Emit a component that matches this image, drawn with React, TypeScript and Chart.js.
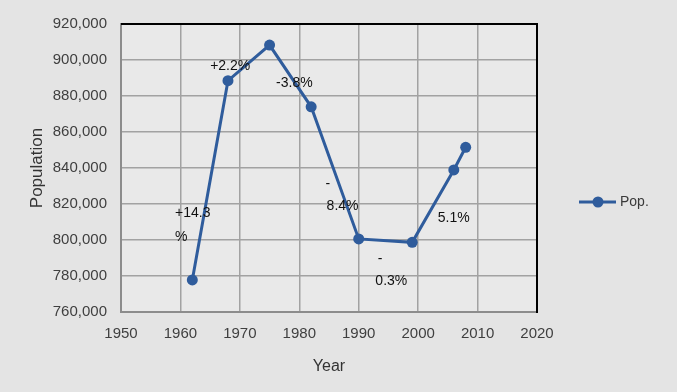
import React, { useEffect, useRef } from "react";
import { Chart, registerables } from "chart.js";

Chart.register(...registerables);

const years = [1962, 1968, 1975, 1982, 1990, 1999, 2006, 2008];
const population = [777800, 888500, 908300, 874000, 800600, 798700, 838900, 851500];
const seriesName = "Pop.";

const labelTexts = ["+14.3", "%", "+2.2%", "-3.8%", "-", "8.4%", "-", "0.3%", "5.1%"];
const labelYears = [1959.1, 1959.1, 1965.0, 1976.1, 1984.4, 1984.6, 1993.2, 1992.8, 2003.3];
const labelValues = [815000, 801700, 896700, 887200, 831100, 818900, 789400, 777200, 812200];

const LINE_COLOR = "#2f5c9c";
const FONT = "'Liberation Sans', Arial, sans-serif";

const decorPlugin = {
  id: "decor",
  beforeDraw(chart: any) {
    const { ctx, width, height, chartArea } = chart;
    ctx.save();
    ctx.fillStyle = "#e4e4e4";
    ctx.fillRect(0, 0, width, height);
    ctx.fillStyle = "#e9e9e9";
    ctx.fillRect(chartArea.left, chartArea.top, chartArea.right - chartArea.left, chartArea.bottom - chartArea.top);
    ctx.restore();
  },
  afterDatasetsDraw(chart: any) {
    const { ctx, chartArea, scales } = chart;
    const xs = scales.x;
    const ys = scales.y;
    ctx.save();
    // top & right black border
    ctx.strokeStyle = "#000";
    ctx.lineWidth = 2;
    ctx.beginPath();
    ctx.moveTo(chartArea.left, chartArea.top);
    ctx.lineTo(chartArea.right, chartArea.top);
    ctx.lineTo(chartArea.right, chartArea.bottom + 1);
    ctx.stroke();
    // data labels
    ctx.fillStyle = "#111";
    ctx.font = `14px ${FONT}`;
    ctx.textAlign = "left";
    ctx.textBaseline = "middle";
    labelTexts.forEach((t, i) => {
      ctx.fillText(t, xs.getPixelForValue(labelYears[i]), ys.getPixelForValue(labelValues[i]));
    });
    // legend
    const lx = chartArea.right + 42;
    const ly = 202;
    ctx.strokeStyle = LINE_COLOR;
    ctx.lineWidth = 3;
    ctx.beginPath();
    ctx.moveTo(lx, ly);
    ctx.lineTo(lx + 37, ly);
    ctx.stroke();
    ctx.fillStyle = LINE_COLOR;
    ctx.beginPath();
    ctx.arc(lx + 19, ly, 5.5, 0, Math.PI * 2);
    ctx.fill();
    ctx.fillStyle = "#3a3a3a";
    ctx.font = `14px ${FONT}`;
    ctx.fillText(seriesName, lx + 41, ly);
    ctx.restore();
  },
};

export default function App() {
  const ref = useRef<HTMLCanvasElement>(null);
  useEffect(() => {
    document.body.style.margin = "0";
    const chart = new Chart(ref.current!, {
      type: "line",
      data: {
        datasets: [
          {
            label: seriesName,
            data: years.map((y, i) => ({ x: y, y: population[i] })),
            borderColor: LINE_COLOR,
            backgroundColor: LINE_COLOR,
            borderWidth: 3,
            pointRadius: 5.5,
            pointBackgroundColor: LINE_COLOR,
            pointBorderWidth: 0,
            tension: 0,
          },
        ],
      },
      options: {
        animation: false,
        responsive: false,
        maintainAspectRatio: false,
        layout: { padding: { left: 0, right: 140, top: 24, bottom: 0 } },
        plugins: { legend: { display: false }, tooltip: { enabled: false } },
        scales: {
          x: {
            type: "linear",
            min: 1950,
            max: 2020,
            afterFit: (s: any) => { s.height = 80; },
            ticks: {
              stepSize: 10,
              padding: 13,
              color: "#3f3f3f",
              font: { size: 15, family: FONT },
              callback: (v: any) => String(v),
            },
            grid: { color: "#a2a2a2", lineWidth: 1.5, drawTicks: false },
            border: { color: "#8c8c8c", width: 2 },
            title: {
              display: true,
              text: "Year",
              color: "#333",
              font: { size: 16, family: FONT },
              padding: { top: 0, bottom: 16 },
            },
          },
          y: {
            min: 760000,
            max: 920000,
            afterFit: (s: any) => { s.width = 121; },
            ticks: {
              stepSize: 20000,
              padding: 14,
              color: "#3f3f3f",
              font: { size: 15, family: FONT },
              callback: (v: any) => Number(v).toLocaleString("en-US"),
            },
            grid: { color: "#a2a2a2", lineWidth: 1.5, drawTicks: false },
            border: { color: "#8c8c8c", width: 2 },
            title: {
              display: true,
              text: "Population",
              color: "#333",
              font: { size: 17, family: FONT },
              padding: { top: 27, bottom: 0 },
            },
          },
        },
      },
      plugins: [decorPlugin],
    });
    return () => chart.destroy();
  }, []);
  return <canvas ref={ref} width={677} height={392} style={{ display: "block" }} />;
}
